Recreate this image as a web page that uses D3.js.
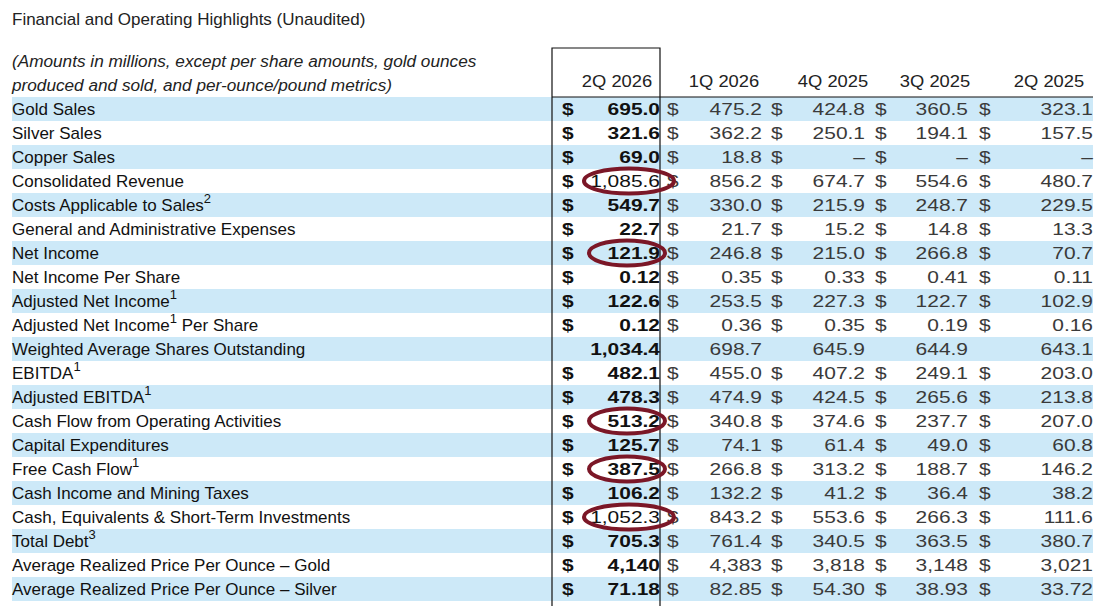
<!DOCTYPE html>
<html>
<head>
<meta charset="utf-8">
<script src="https://cdn.jsdelivr.net/npm/d3@7"></script>
<style>
  body { margin: 0; background: #fff; }
  svg text { font-family: "Liberation Sans", Arial, sans-serif; }
</style>
</head>
<body>
<div id="app"></div>
<script>
'use strict'

const title = 'Financial and Operating Highlights (Unaudited)'
const noteLines = [
  '(Amounts in millions, except per share amounts, gold ounces',
  'produced and sold, and per-ounce/pound metrics)'
]

const quarters = ['2Q 2026', '1Q 2026', '4Q 2025', '3Q 2025', '2Q 2025']

const metrics = [
  'Gold Sales', 'Silver Sales', 'Copper Sales', 'Consolidated Revenue',
  'Costs Applicable to Sales', 'General and Administrative Expenses',
  'Net Income', 'Net Income Per Share', 'Adjusted Net Income',
  'Adjusted Net Income| Per Share', 'Weighted Average Shares Outstanding',
  'EBITDA', 'Adjusted EBITDA', 'Cash Flow from Operating Activities',
  'Capital Expenditures', 'Free Cash Flow', 'Cash Income and Mining Taxes',
  'Cash, Equivalents & Short-Term Investments', 'Total Debt',
  'Average Realized Price Per Ounce \u2013 Gold',
  'Average Realized Price Per Ounce \u2013 Silver'
]
// footnote marks per metric ('' = none)
const footnotes = ['', '', '', '', '2', '', '', '', '1', '1', '', '1', '1', '', '', '1', '', '', '3', '', '']
const decimals = [1, 1, 1, 1, 1, 1, 1, 2, 1, 2, 1, 1, 1, 1, 1, 1, 1, 1, 1, 0, 2]
const noDollar = ['Weighted Average Shares Outstanding']

const q2_2026 = [695.0, 321.6, 69.0, 1085.6, 549.7, 22.7, 121.9, 0.12, 122.6, 0.12, 1034.4, 482.1, 478.3, 513.2, 125.7, 387.5, 106.2, 1052.3, 705.3, 4140, 71.18]
const q1_2026 = [475.2, 362.2, 18.8, 856.2, 330.0, 21.7, 246.8, 0.35, 253.5, 0.36, 698.7, 455.0, 474.9, 340.8, 74.1, 266.8, 132.2, 843.2, 761.4, 4383, 82.85]
const q4_2025 = [424.8, 250.1, null, 674.7, 215.9, 15.2, 215.0, 0.33, 227.3, 0.35, 645.9, 407.2, 424.5, 374.6, 61.4, 313.2, 41.2, 553.6, 340.5, 3818, 54.30]
const q3_2025 = [360.5, 194.1, null, 554.6, 248.7, 14.8, 266.8, 0.41, 122.7, 0.19, 644.9, 249.1, 265.6, 237.7, 49.0, 188.7, 36.4, 266.3, 363.5, 3148, 38.93]
const q2_2025 = [323.1, 157.5, null, 480.7, 229.5, 13.3, 70.7, 0.11, 102.9, 0.16, 643.1, 203.0, 213.8, 207.0, 60.8, 146.2, 38.2, 111.6, 380.7, 3021, 33.72]

const circled = ['Consolidated Revenue', 'Net Income', 'Cash Flow from Operating Activities', 'Free Cash Flow', 'Cash, Equivalents & Short-Term Investments']
const plainWeight = ['Consolidated Revenue', 'Cash, Equivalents & Short-Term Investments']

const series = [q2_2026, q1_2026, q4_2025, q3_2025, q2_2025]

const setWidth = 1102
const setHeight = 606
const numStretch = 1.27

const svg = d3.select('#app')
  .append('svg')
  .attr('width', setWidth)
  .attr('height', setHeight)

const scaleY = d3.scaleBand()
  .domain(metrics)
  .range([97, 97 + 24 * metrics.length])

const baseY = d => scaleY(d) + scaleY.bandwidth() / 2 + 6

// right edge of each value column
const scaleX = d3.scaleOrdinal()
  .domain(quarters)
  .range([660, 762, 865, 968, 1093])
const dollarX = d3.scaleOrdinal()
  .domain(quarters)
  .range([562, 667, 771, 875, 979])
const headX = d3.scaleOrdinal()
  .domain(quarters)
  .range([617, 724, 833, 935, 1049])

// stripes
svg.append('g')
  .selectAll('rect')
  .data(metrics.filter((d, i) => i % 2 === 0))
  .join('rect')
  .attr('x', 12)
  .attr('y', d => scaleY(d))
  .attr('width', 1093 - 12)
  .attr('height', scaleY.bandwidth())
  .attr('fill', '#cde9f8')

svg.append('text')
  .attr('x', 12)
  .attr('y', 25)
  .attr('font-size', 17)
  .attr('fill', '#222')
  .text(title)

svg.append('g')
  .selectAll('text')
  .data(noteLines)
  .join('text')
  .attr('x', 12)
  .attr('y', (d, i) => 67 + i * 24)
  .attr('font-size', 17.2)
  .attr('font-style', 'italic')
  .attr('fill', '#222')
  .text(d => d)

svg.append('g')
  .selectAll('text')
  .data(quarters)
  .join('text')
  .attr('transform', d => `translate(${headX(d)},87) scale(1.08,1)`)
  .attr('text-anchor', 'middle')
  .attr('font-size', 17)
  .attr('fill', '#222')
  .text(d => d)

// row labels
const labels = svg.append('g')
  .selectAll('text')
  .data(metrics)
  .join('text')
  .attr('x', 12)
  .attr('y', baseY)
  .attr('font-size', 17)
  .attr('fill', '#111')

labels.each(function (d, i) {
  const t = d3.select(this)
  const parts = d.split('|')
  t.append('tspan').text(parts[0])
  if (parts.length > 1) {
    t.append('tspan').attr('dy', -8).attr('font-size', 13).text(footnotes[i])
    t.append('tspan').attr('dy', 8).text(parts[1])
  } else if (footnotes[i]) {
    t.append('tspan').attr('dy', -8).attr('font-size', 13).text(footnotes[i])
  }
})

const fmt = (v, i) => {
  if (v === null) return '\u2013'
  return d3.format(',.' + decimals[i] + 'f')(v)
}

// value cells
quarters.forEach((q, qi) => {
  const g = svg.append('g')
  const first = qi === 0
  g.selectAll('text.dollar')
    .data(metrics.filter(m => !noDollar.includes(m)))
    .join('text')
    .attr('class', 'dollar')
    .attr('transform', d => `translate(${dollarX(q)},${baseY(d)}) scale(${numStretch},1)`)
    .attr('font-size', 16.5)
    .attr('font-weight', first ? 'bold' : 'normal')
    .attr('fill', first ? '#111' : '#3a3a3a')
    .text('$')

  g.selectAll('text.val')
    .data(metrics)
    .join('text')
    .attr('class', 'val')
    .attr('transform', d => `translate(${scaleX(q)},${baseY(d)}) scale(${numStretch},1)`)
    .attr('text-anchor', 'end')
    .attr('font-size', 16.5)
    .attr('font-weight', d => first && !plainWeight.includes(d) ? 'bold' : 'normal')
    .attr('fill', first ? '#111' : '#3a3a3a')
    .text((d, i) => fmt(series[qi][i], i))
})

// highlight box around current quarter
svg.append('path')
  .attr('d', `M552,${setHeight} V48 H660 V${setHeight}`)
  .attr('stroke', '#111')
  .attr('stroke-width', 1.2)
  .attr('fill', 'none')
svg.append('line')
  .attr('x1', 552)
  .attr('x2', 1093)
  .attr('y1', scaleY(metrics[0]))
  .attr('y2', scaleY(metrics[0]))
  .attr('stroke', '#111')
  .attr('stroke-width', 1.2)

// circled values
svg.append('g')
  .selectAll('ellipse')
  .data(circled)
  .join('ellipse')
  .attr('cx', d => scaleX(quarters[0]) - (q2_2026[metrics.indexOf(d)] >= 1000 ? 31 : 33))
  .attr('cy', d => scaleY(d) + scaleY.bandwidth() / 2)
  .attr('rx', d => q2_2026[metrics.indexOf(d)] >= 1000 ? 45 : 38)
  .attr('ry', 12.5)
  .attr('fill', 'none')
  .attr('stroke', '#7b1727')
  .attr('stroke-width', 4)
</script>
</body>
</html>
